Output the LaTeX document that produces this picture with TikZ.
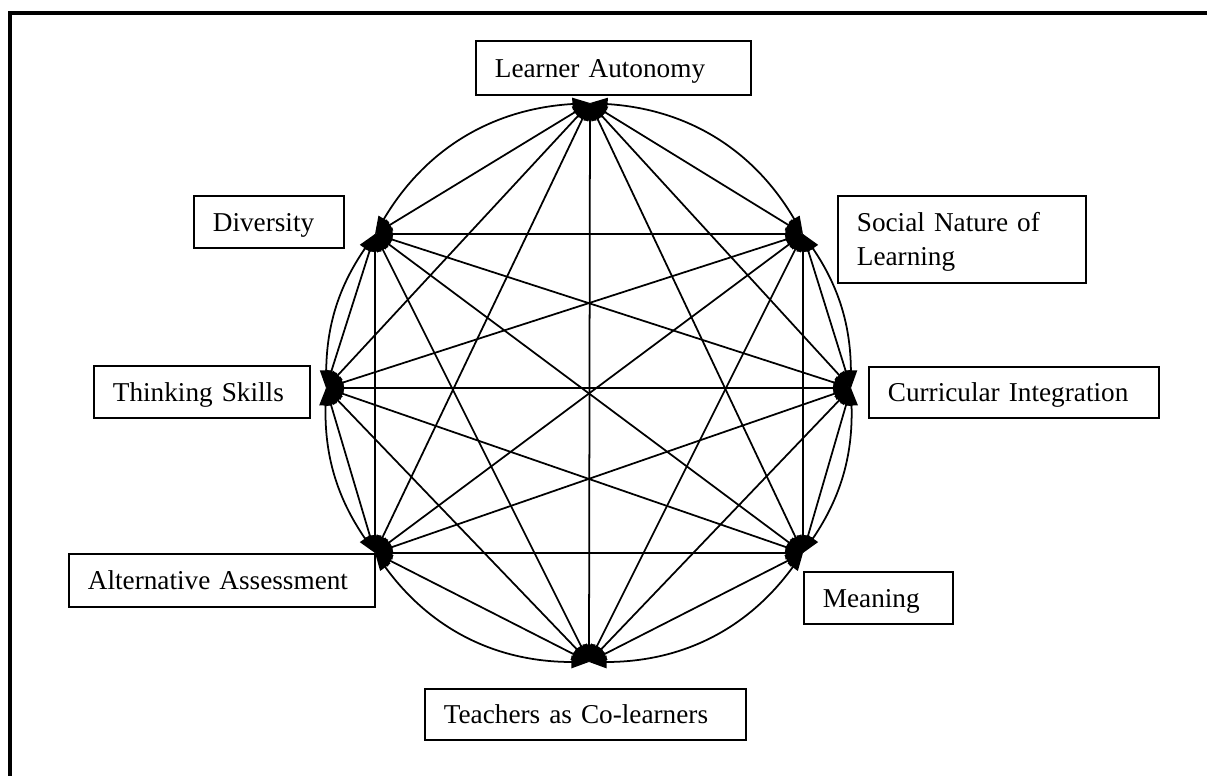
\documentclass[tikz,border=0pt]{standalone}
\usepackage{fontspec}
\setmainfont{Liberation Serif}
\usetikzlibrary{arrows.meta}

\begin{document}
\begin{tikzpicture}[x=0.02cm, y=0.02cm, >={Triangle[length=10pt,width=7pt]},
  concept/.style={draw, line width=1pt, anchor=north west, align=left, inner xsep=0.38cm, inner ysep=0pt, text height=10.5pt, text depth=0pt, font=\fontsize{15.5}{19}\selectfont},
  link/.style={<->, line width=1pt}]
\useasboundingbox (0,0) rectangle (1207,776);
\draw[line width=2.3pt] (10,0) -- (10,763) -- (1207,763);
% the eight points round the circle
\coordinate (la) at (590,673);
\coordinate (sn) at (803,542);
\coordinate (ci) at (851,388);
\coordinate (me) at (803,223);
\coordinate (tc) at (589,114);
\coordinate (aa) at (375,223);
\coordinate (ts) at (326,388);
\coordinate (di) at (375,542);
% labels
\node[concept, text width=4.74cm, minimum height=1.08cm] (autonomy) at (475,736) {Learner Autonomy};
\node[concept, text width=4.2cm, minimum height=1.74cm, text depth=19pt] (social) at (837,581) {Social Nature of\\ Learning};
\node[concept, text width=5.04cm, minimum height=1.02cm] (curricular) at (868,410) {Curricular Integration};
\node[concept, text width=2.22cm, minimum height=1.04cm] (meaning) at (803,205) {Meaning};
\node[concept, text width=5.66cm, minimum height=1.02cm] (teachers) at (424,88) {Teachers as Co-learners};
\node[concept, text width=5.36cm, minimum height=1.06cm] (assessment) at (68,223) {Alternative Assessment};
\node[concept, text width=3.56cm, minimum height=1.04cm] (thinking) at (93,411) {Thinking Skills};
\node[concept, text width=2.24cm, minimum height=1.04cm] (diversity) at (193,581) {Diversity};
% the circle, as arcs
\draw (la) edge[link, bend right=28] (di);
\draw (di) edge[link, bend right=17] (ts);
\draw (ts) edge[link, bend right=18] (aa);
\draw (aa) edge[link, bend right=27] (tc);
\draw (tc) edge[link, bend right=27] (me);
\draw (me) edge[link, bend right=18] (ci);
\draw (ci) edge[link, bend right=17] (sn);
\draw (sn) edge[link, bend right=28] (la);
% chords
\draw (la) edge[link] (sn) edge[link] (ci) edge[link] (me) edge[link] (tc) edge[link] (aa) edge[link] (ts) edge[link] (di);
\draw (sn) edge[link] (ci) edge[link] (me) edge[link] (tc) edge[link] (aa) edge[link] (ts) edge[link] (di);
\draw (ci) edge[link] (me) edge[link] (tc) edge[link] (aa) edge[link] (ts) edge[link] (di);
\draw (me) edge[link] (tc) edge[link] (aa) edge[link] (ts) edge[link] (di);
\draw (tc) edge[link] (aa) edge[link] (ts) edge[link] (di);
\draw (aa) edge[link] (ts) edge[link] (di);
\draw (ts) edge[link] (di);
\end{tikzpicture}
\end{document}
